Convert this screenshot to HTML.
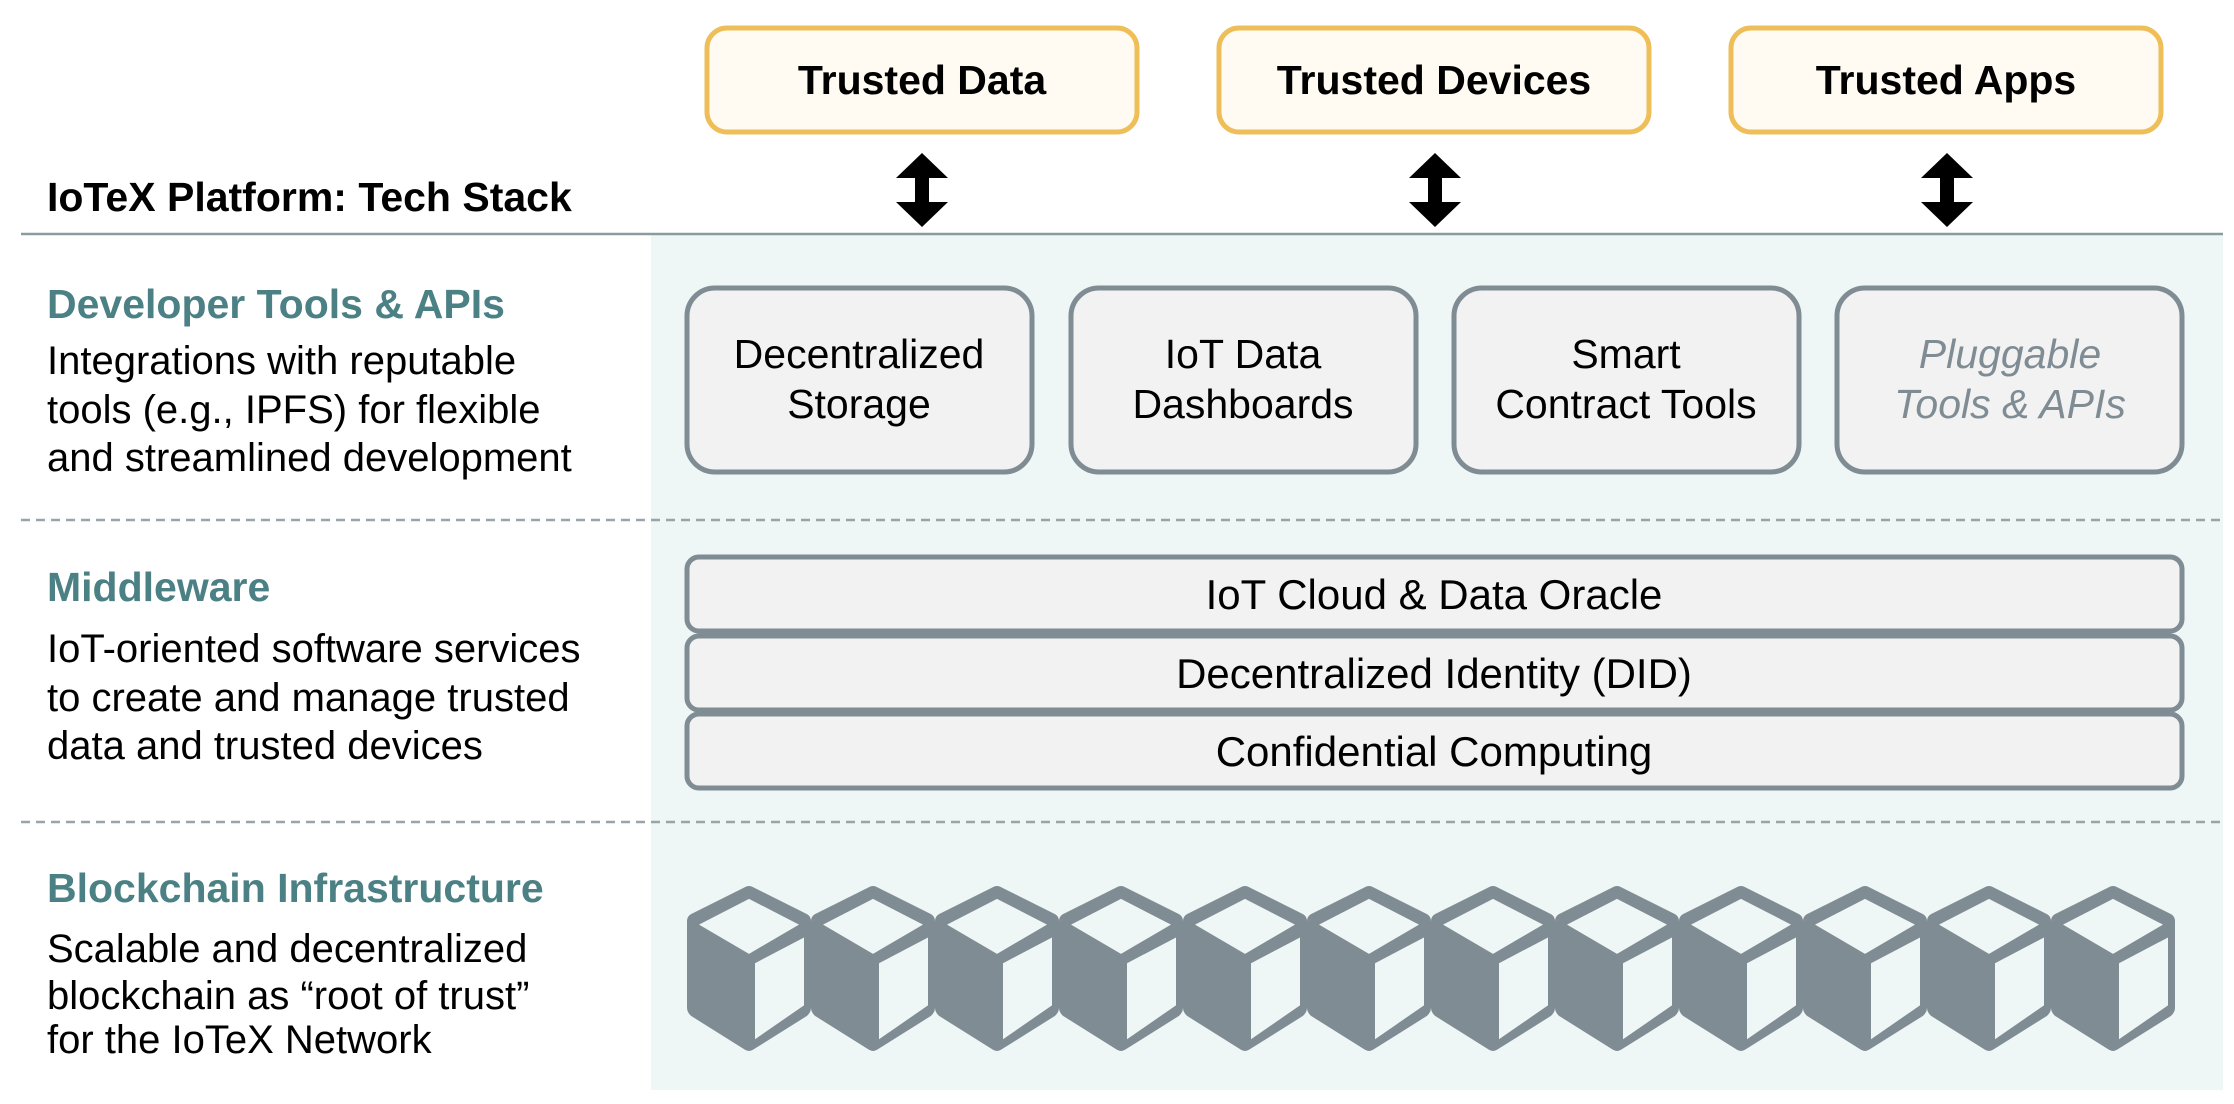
<!DOCTYPE html>
<html><head><meta charset="utf-8"><style>
html,body{margin:0;padding:0;background:#fff;}
svg{display:block;}
text{font-family:"Liberation Sans",Arial,sans-serif;}
</style></head><body>
<svg width="2234" height="1104" viewBox="0 0 2234 1104" xmlns="http://www.w3.org/2000/svg">
<defs>
<g id="cube" transform="scale(1,1.17)">
  <path d="M0,30 Q0,26 4,24 L58,1 Q62,-1 66,1 L120,24 Q124,26 124,30 L124,104 Q124,108 120,111 L66,140 Q62,142 58,140 L4,111 Q0,108 0,104 Z" fill="#7f8c94"/>
  <path d="M12,33 L62,11 L112,33 L62,58 Z" fill="#eef6f6"/>
  <path d="M68,66 L117,44 L117,102 L68,131 Z" fill="#eef6f6"/>
</g>
<g id="arr">
  <path d="M0,-37 L26,-12 L7,-12 L7,12 L26,12 L0,37 L-26,12 L-7,12 L-7,-12 L-26,-12 Z" fill="#000"/>
</g>
</defs>
<rect x="651" y="234" width="1572" height="856" fill="#eef6f6"/>
<line x1="21" y1="234" x2="2223" y2="234" stroke="#8a9ba0" stroke-width="2.5"/>
<line x1="21" y1="520" x2="2223" y2="520" stroke="#99a4a8" stroke-width="2.5" stroke-dasharray="9,6"/>
<line x1="21" y1="822" x2="2223" y2="822" stroke="#99a4a8" stroke-width="2.5" stroke-dasharray="9,6"/>

<g stroke="#eebf58" stroke-width="5" fill="#fffbf3">
<rect x="707" y="28" width="430" height="104" rx="20"/>
<rect x="1219" y="28" width="430" height="104" rx="20"/>
<rect x="1731" y="28" width="430" height="104" rx="20"/>
</g>
<g font-weight="bold" font-size="41" text-anchor="middle" fill="#000">
<text x="922" y="94">Trusted Data</text>
<text x="1434" y="94">Trusted Devices</text>
<text x="1946" y="94">Trusted Apps</text>
</g>
<use href="#arr" x="922" y="190"/>
<use href="#arr" x="1435" y="190"/>
<use href="#arr" x="1947" y="190"/>

<text x="47" y="211" font-size="41" font-weight="bold" fill="#000">IoTeX Platform: Tech Stack</text>

<g font-size="41" font-weight="bold" fill="#4b8184">
<text x="47" y="318">Developer Tools &amp; APIs</text>
<text x="47" y="601">Middleware</text>
<text x="47" y="902">Blockchain Infrastructure</text>
</g>
<g font-size="40" fill="#000">
<text x="47" y="374">Integrations with reputable</text>
<text x="47" y="423">tools (e.g., IPFS) for flexible</text>
<text x="47" y="471">and streamlined development</text>
<text x="47" y="662">IoT-oriented software services</text>
<text x="47" y="711">to create and manage trusted</text>
<text x="47" y="759">data and trusted devices</text>
<text x="47" y="962">Scalable and decentralized</text>
<text x="47" y="1009">blockchain as “root of trust”</text>
<text x="47" y="1053">for the IoTeX Network</text>
</g>

<g stroke="#7f8c94" stroke-width="5" fill="#f2f2f2">
<rect x="687" y="288" width="345" height="184" rx="28"/>
<rect x="1071" y="288" width="345" height="184" rx="28"/>
<rect x="1454" y="288" width="345" height="184" rx="28"/>
<rect x="1837" y="288" width="345" height="184" rx="28"/>
<rect x="687" y="557" width="1495" height="74" rx="12"/>
<rect x="687" y="636" width="1495" height="74" rx="12"/>
<rect x="687" y="714" width="1495" height="74" rx="12"/>
</g>
<g font-size="41" text-anchor="middle" fill="#000">
<text x="859" y="368">Decentralized</text>
<text x="859" y="418">Storage</text>
<text x="1243" y="368">IoT Data</text>
<text x="1243" y="418">Dashboards</text>
<text x="1626" y="368">Smart</text>
<text x="1626" y="418">Contract Tools</text>
</g>
<g font-size="42" text-anchor="middle" fill="#000">
<text x="1434" y="609">IoT Cloud &amp; Data Oracle</text>
<text x="1434" y="688">Decentralized Identity (DID)</text>
<text x="1434" y="766">Confidential Computing</text>
</g>
<g font-size="41" text-anchor="middle" fill="#7f8c94" font-style="italic">
<text x="2010" y="368">Pluggable</text>
<text x="2010" y="418">Tools &amp; APIs</text>
</g>

<use href="#cube" x="687" y="886"/>
<use href="#cube" x="811" y="886"/>
<use href="#cube" x="935" y="886"/>
<use href="#cube" x="1059" y="886"/>
<use href="#cube" x="1183" y="886"/>
<use href="#cube" x="1307" y="886"/>
<use href="#cube" x="1431" y="886"/>
<use href="#cube" x="1555" y="886"/>
<use href="#cube" x="1679" y="886"/>
<use href="#cube" x="1803" y="886"/>
<use href="#cube" x="1927" y="886"/>
<use href="#cube" x="2051" y="886"/>
</svg>
</body></html>
